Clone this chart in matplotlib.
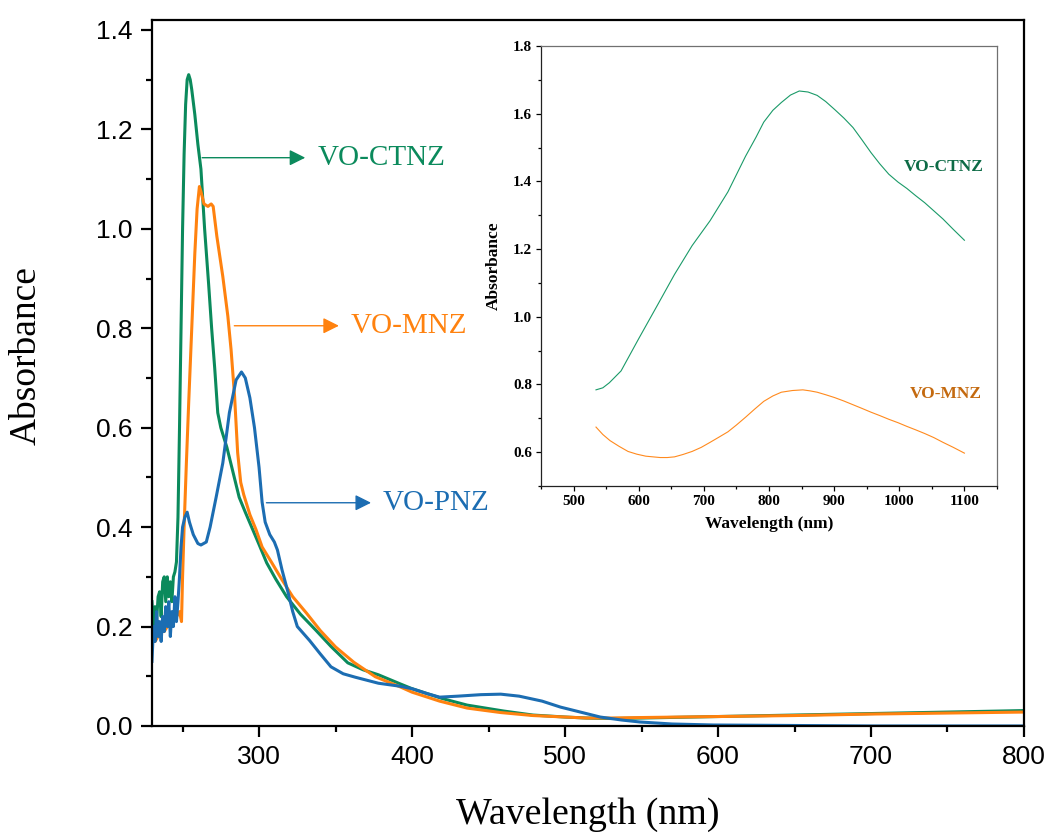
import numpy as np
import matplotlib.pyplot as plt
from matplotlib.ticker import MultipleLocator

# main spectra (nm, absorbance)
ctnz_x = [230, 231, 232, 233, 234, 235, 236, 237, 238, 239, 240, 241, 242, 243, 244,
          245, 246, 247, 248, 249, 250, 251, 252, 253, 254, 255, 256, 258, 260, 262,
          264.4, 267, 269, 271, 273, 275, 279, 283, 287, 291, 296, 300, 305, 311, 318,
          327, 337, 347, 358, 368, 378, 392, 400, 420, 436, 460, 479, 500, 514, 530,
          550, 600, 650, 700, 750, 800]
ctnz_y = [0.25, 0.20, 0.24, 0.21, 0.26, 0.27, 0.22, 0.29, 0.30, 0.25, 0.30, 0.26, 0.29, 0.25, 0.30,
          0.31, 0.33, 0.42, 0.60, 0.80, 1.00, 1.15, 1.25, 1.30, 1.31, 1.30, 1.28, 1.23, 1.17, 1.12,
          1.00, 0.89, 0.80, 0.72, 0.63, 0.60, 0.56, 0.51, 0.46, 0.43, 0.394, 0.365, 0.328, 0.295, 0.26,
          0.225, 0.193, 0.16, 0.127, 0.113, 0.103, 0.085, 0.075, 0.055, 0.042, 0.03, 0.022, 0.018, 0.016, 0.015,
          0.016, 0.019, 0.022, 0.025, 0.028, 0.031]

mnz_x = [230, 232, 234, 236, 238, 240, 242, 244, 246, 248, 249.3, 250, 251, 252.5, 254,
         256, 258, 259.5, 261, 262, 264, 266.6, 268.7, 270, 272.4, 276.3, 279.6, 281.7, 284,
         286, 288, 290, 294, 298, 302, 308, 315, 322, 331, 340, 350, 362, 376, 392,
         400, 418, 436, 458, 479, 500, 514, 530, 550, 600, 650, 700, 750, 800]
mnz_y = [0.18, 0.17, 0.18, 0.19, 0.19, 0.20, 0.20, 0.21, 0.22, 0.23, 0.21, 0.30, 0.40, 0.53, 0.65,
         0.80, 0.95, 1.04, 1.085, 1.075, 1.05, 1.045, 1.05, 1.045, 0.985, 0.904, 0.824, 0.757, 0.663,
         0.55, 0.49, 0.465, 0.425, 0.395, 0.36, 0.33, 0.294, 0.26, 0.227, 0.192, 0.159, 0.128, 0.099, 0.079,
         0.068, 0.05, 0.036, 0.027, 0.021, 0.018, 0.016, 0.016, 0.017, 0.019, 0.021, 0.024, 0.026, 0.028]

pnz_x = [230, 231, 232, 233, 234, 235, 236, 237, 238, 239, 240, 241, 242, 243, 244,
         245, 246, 247, 248, 249, 250, 251.5, 253, 254.5, 257, 260, 262, 265.5, 268,
         272, 276.3, 280.6, 285, 288.5, 291, 294, 297, 300, 302, 304, 307, 310, 312,
         315, 319, 322, 325, 333, 340, 347, 355, 363, 378, 392, 400, 410, 418, 430,
         445, 458, 470, 485, 497, 510, 523, 537, 549, 570, 597, 650, 700, 750, 800]
pnz_y = [0.13, 0.20, 0.17, 0.23, 0.18, 0.21, 0.17, 0.22, 0.19, 0.24, 0.20, 0.25, 0.18, 0.23, 0.20,
         0.26, 0.21, 0.25, 0.30, 0.36, 0.40, 0.42, 0.43, 0.41, 0.385, 0.367, 0.364, 0.37, 0.40,
         0.461, 0.529, 0.63, 0.696, 0.712, 0.70, 0.66, 0.60, 0.52, 0.45, 0.41, 0.385, 0.37, 0.354,
         0.314, 0.268, 0.23, 0.20, 0.172, 0.145, 0.119, 0.105, 0.098, 0.086, 0.08, 0.075, 0.065, 0.058, 0.06,
         0.063, 0.064, 0.06, 0.05, 0.038, 0.028, 0.018, 0.012, 0.008, 0.004, 0.002, 0.001, 0.0, 0.0, 0.0]

# inset spectra (NIR region)
in_ctnz_x = [534.5, 545, 555, 573, 600, 627.6, 655, 682, 709.7, 737, 764, 780, 792, 806, 819,
             833, 846.5, 860, 874, 887, 901, 915, 929, 943, 956.6, 970, 984, 998, 1011.7, 1025,
             1039, 1053, 1067, 1083, 1100]
in_ctnz_y = [0.784, 0.79, 0.805, 0.84, 0.935, 1.03, 1.125, 1.21, 1.284, 1.369, 1.474, 1.53, 1.575, 1.61, 1.633,
             1.655, 1.667, 1.664, 1.654, 1.636, 1.612, 1.587, 1.559, 1.522, 1.485, 1.452, 1.421, 1.398, 1.379, 1.358,
             1.337, 1.313, 1.289, 1.258, 1.226]
in_mnz_x = [534.5, 545, 556, 570, 583.7, 597, 611, 622, 633, 644, 655, 668, 682, 696, 709.7,
            723, 737, 750, 764, 778, 792, 806, 819, 836, 852, 863, 874, 888, 901, 915,
            929, 943, 956.6, 970, 984, 998, 1011.7, 1025, 1039, 1053, 1067, 1083, 1100]
in_mnz_y = [0.674, 0.652, 0.634, 0.617, 0.602, 0.594, 0.588, 0.586, 0.584, 0.584, 0.586, 0.593, 0.602, 0.614, 0.629,
            0.644, 0.66, 0.68, 0.703, 0.727, 0.75, 0.766, 0.777, 0.782, 0.784, 0.781, 0.777, 0.769, 0.761, 0.751,
            0.74, 0.729, 0.718, 0.708, 0.697, 0.687, 0.676, 0.666, 0.655, 0.643, 0.629, 0.614, 0.597]

green = '#0b8a5c'
orange = '#ff820f'
blue = '#1c6db2'

fig = plt.figure(figsize=(10.51, 8.36), dpi=100)
ax = fig.add_axes([0.1446, 0.1316, 0.8297, 0.8445])

ax.plot(ctnz_x, ctnz_y, color=green, lw=2.2)
ax.plot(mnz_x, mnz_y, color=orange, lw=2.2)
ax.plot(pnz_x, pnz_y, color=blue, lw=2.2)

ax.set_xlim(230, 800)
ax.set_ylim(0, 1.42)
ax.xaxis.set_major_locator(MultipleLocator(100))
ax.xaxis.set_minor_locator(MultipleLocator(50))
ax.yaxis.set_major_locator(MultipleLocator(0.2))
ax.yaxis.set_minor_locator(MultipleLocator(0.1))
ax.yaxis.set_major_formatter(plt.FormatStrFormatter('%.1f'))
for s in ax.spines.values():
    s.set_linewidth(1.6)
ax.tick_params(which='both', direction='out', width=1.6, top=False, right=False)
ax.tick_params(which='major', length=8, labelsize=19, pad=6)
ax.tick_params(which='minor', length=4)
for lab in ax.get_xticklabels() + ax.get_yticklabels():
    lab.set_family('Liberation Sans')
ax.set_xlabel('Wavelength (nm)', family='Liberation Serif', fontsize=27.3, labelpad=20)
ax.set_ylabel('Absorbance', family='Liberation Serif', fontsize=27)
ax.yaxis.set_label_coords(-0.124, 0.525)

# arrows with labels
arrows = [('VO-CTNZ', 261, 332, 1.143, green),
          ('VO-MNZ', 282, 354, 0.805, orange),
          ('VO-PNZ', 303, 375, 0.449, blue)]
for name, x0, x1, yy, c in arrows:
    ax.annotate('', xy=(x1, yy), xytext=(x0, yy),
                arrowprops=dict(arrowstyle='-|>', color=c, lw=1.0, mutation_scale=24))
    ax.text(x1 + 6, yy, name, color=c, family='Liberation Serif', fontsize=21, va='center')

# inset
ins = fig.add_axes([0.5147, 0.4187, 0.4339, 0.5263])
ins.plot(in_ctnz_x, in_ctnz_y, color='#1a9a68', lw=0.8)
ins.plot(in_mnz_x, in_mnz_y, color='#ff8a1e', lw=0.8)
ins.set_xlim(450, 1150)
ins.set_ylim(0.5, 1.8)
ins.xaxis.set_major_locator(MultipleLocator(100))
ins.xaxis.set_minor_locator(MultipleLocator(50))
ins.yaxis.set_major_locator(MultipleLocator(0.2))
ins.yaxis.set_minor_locator(MultipleLocator(0.1))
ins.yaxis.set_major_formatter(plt.FormatStrFormatter('%.1f'))
for s in ins.spines.values():
    s.set_linewidth(0.9)
    s.set_color('#707070')
ins.spines['left'].set_color('#222222')
ins.spines['bottom'].set_color('#222222')
ins.tick_params(which='both', direction='out', width=0.9, top=False, right=False)
ins.tick_params(which='major', length=3.5, labelsize=11, pad=3)
ins.tick_params(which='minor', length=2)
for lab in ins.get_xticklabels() + ins.get_yticklabels():
    lab.set_family('Liberation Serif')
    lab.set_fontweight('bold')
ins.set_xlabel('Wavelength (nm)', family='Liberation Serif', fontweight='bold', fontsize=12.5, labelpad=6)
ins.set_ylabel('Absorbance', family='Liberation Serif', fontweight='bold', fontsize=12.5, labelpad=8)
ins.text(1068, 1.443, 'VO-CTNZ', color='#0d6b46', family='Liberation Serif', fontweight='bold',
         fontsize=12.5, ha='center', va='center')
ins.text(1071, 0.771, 'VO-MNZ', color='#c46a10', family='Liberation Serif', fontweight='bold',
         fontsize=12.5, ha='center', va='center')

fig.savefig('out.png', dpi=100)
